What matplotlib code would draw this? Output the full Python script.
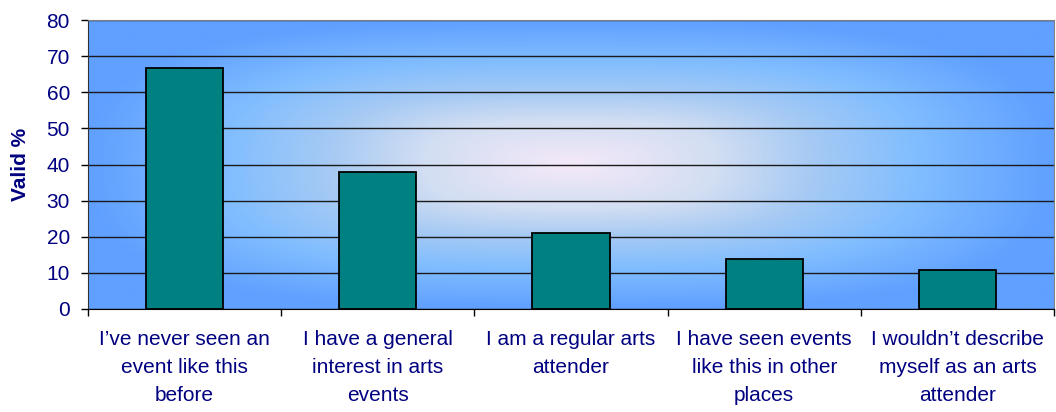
import numpy as np
import matplotlib
matplotlib.use("Agg")
import matplotlib.pyplot as plt
from matplotlib.colors import LinearSegmentedColormap

categories = ["I\u2019ve never seen an\nevent like this\nbefore",
              "I have a general\ninterest in arts\nevents",
              "I am a regular arts\nattender",
              "I have seen events\nlike this in other\nplaces",
              "I wouldn\u2019t describe\nmyself as an arts\nattender"]
values = [66.7, 37.9, 21.1, 13.8, 10.8]
yticks = [0, 10, 20, 30, 40, 50, 60, 70, 80]

navy = "#000080"
plt.rcParams['font.family'] = ['Liberation Sans', 'DejaVu Sans']

fig = plt.figure(figsize=(10.56, 4.12), dpi=100)
ax = fig.add_axes([88/1056, 103/412, 966/1056, 289/412])

# "from centre" gradient: pale pink middle, blue towards the edges
ny, nx = 300, 600
yy, xx = np.mgrid[0:ny, 0:nx]
dx = np.abs(xx / (nx - 1) - 0.5) / 0.5
dy = np.abs(yy / (ny - 1) - 0.5) / 0.5
p = 3.0
t = np.clip((dx ** p + dy ** p) ** (1 / p), 0, 1)
cmap = LinearSegmentedColormap.from_list(
    "bg", [(0.0, "#f5e9f9"), (0.3, "#d2def2"), (0.5, "#a6caf4"),
           (0.72, "#80bdff"), (1.0, "#60a0ff")])
ax.imshow(cmap(t), extent=[0, 1, 0, 1], transform=ax.transAxes, aspect='auto',
          zorder=0, interpolation='bilinear')

x = np.arange(len(categories))
ax.bar(x, values, width=0.4, color="#008080", edgecolor="black", linewidth=1.3, zorder=3)

ax.set_xlim(-0.5, len(categories) - 0.5)
ax.set_ylim(0, 80)
ax.set_yticks(yticks)
ax.yaxis.grid(True, color="#1a1a1a", linewidth=1, zorder=1)
ax.set_axisbelow(True)

ax.set_xticks(x)
ax.set_xticklabels(categories, fontsize=15, color=navy, linespacing=1.6, va='top')
ax.tick_params(axis='x', which='major', length=0, pad=15)
ax.set_xticks(np.arange(-0.5, len(categories), 1.0), minor=True)
ax.tick_params(axis='x', which='minor', length=5, width=1, color='black', direction='out')
ax.tick_params(axis='y', length=5, width=1, direction='out', labelsize=15,
               labelcolor=navy, pad=8)

ax.set_ylabel("Valid %", fontsize=15, fontweight='bold', color=navy, labelpad=12)

for s in ['top', 'right']:
    ax.spines[s].set_color('#808080')
ax.spines['left'].set_color('#333333')
ax.spines['bottom'].set_color('black')

fig.savefig("out.png", dpi=100)
